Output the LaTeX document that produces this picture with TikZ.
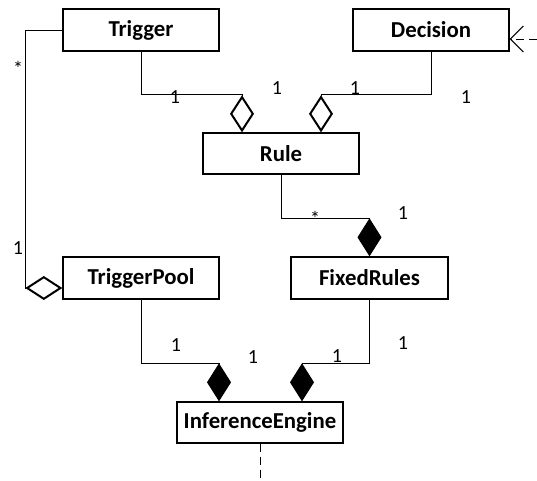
\documentclass[tikz,border=0pt]{standalone}
\usepackage{fontspec}
\setmainfont{Carlito}
\usetikzlibrary{arrows.meta,positioning,calc}

\begin{document}
\begin{tikzpicture}[x=1pt,y=-1pt,
  cls/.style={draw,line width=1.4pt,minimum width=156pt,minimum height=42pt,inner sep=0pt,font=\bfseries\fontsize{22.8}{26}\selectfont},
  mult/.style={inner sep=0pt,font=\fontsize{20}{24}\selectfont},
  link/.style={line width=1pt},
  agg/.style={link,-{Diamond[open,length=37pt,width=24pt,line width=2pt]}},
  comp/.style={link,-{Diamond[length=38pt,width=24pt]}},
  dep/.style={link,dash pattern=on 8pt off 5pt}]
     \useasboundingbox (0,0) rectangle (537,480);

     \node[cls] (trig) at (141,30) {Trigger};
     \node[cls] (dec) at (431,30) {Decision};
     \node[cls,minimum height=41pt] (rule) at (281,153.5) {Rule};
     \node[cls] (pool) at (141,278) {TriggerPool};
     \node[cls,minimum width=157pt] (fixed) at (369.5,278) {FixedRules};
     \node[cls,minimum width=166pt,minimum height=41pt] (eng) at (260,422.5) {InferenceEngine};

     % bends of the connectors
     \coordinate (trj) at (242,94);
     \coordinate (dcj) at (321,94);
     \coordinate (rfj) at (369.5,218);
     \coordinate (pij) at (219,363);
     \coordinate (fij) at (302,363);
     \coordinate (tpa) at (25,30);
     \coordinate (tpb) at (25,288);
     \coordinate (ext) at (537,39);
     \coordinate (bot) at (260,480);

     \draw[agg] (trig.south) |- (trj) -- (trj |- rule.north);
     \draw[agg] (dec.south) |- (dcj) -- (dcj |- rule.north);
     \draw[comp] (rule.south) |- (rfj) -- (fixed.north);
     \draw[comp] (pool.south) |- (pij) -- (pij |- eng.north);
     \draw[comp] (fixed.south) |- (fij) -- (fij |- eng.north);
     \draw[agg] (trig.west) -- (tpa) -- (tpb) -- (tpb -| pool.west);
     \draw[dep,-{Straight Barb[length=13pt,width=26pt,line width=1pt]}] (ext) -- (ext -| dec.east);
     \draw[dep] (eng.south) -- (bot);

     % multiplicities
     \node[mult] (m1) at (18,68) {*};
     \node[mult] (m2) at (18,248) {1};
     \node[mult] (m3) at (175,97) {1};
     \node[mult] (m4) at (277,88) {1};
     \node[mult] (m5) at (355,88) {1};
     \node[mult] (m6) at (466,97) {1};
     \node[mult] (m7) at (315,218) {*};
     \node[mult] (m8) at (403,213) {1};
     \node[mult] (m9) at (176,345) {1};
     \node[mult] (m10) at (253,357) {1};
     \node[mult] (m11) at (337,356) {1};
     \node[mult] (m12) at (403,343) {1};
\end{tikzpicture}
\end{document}
